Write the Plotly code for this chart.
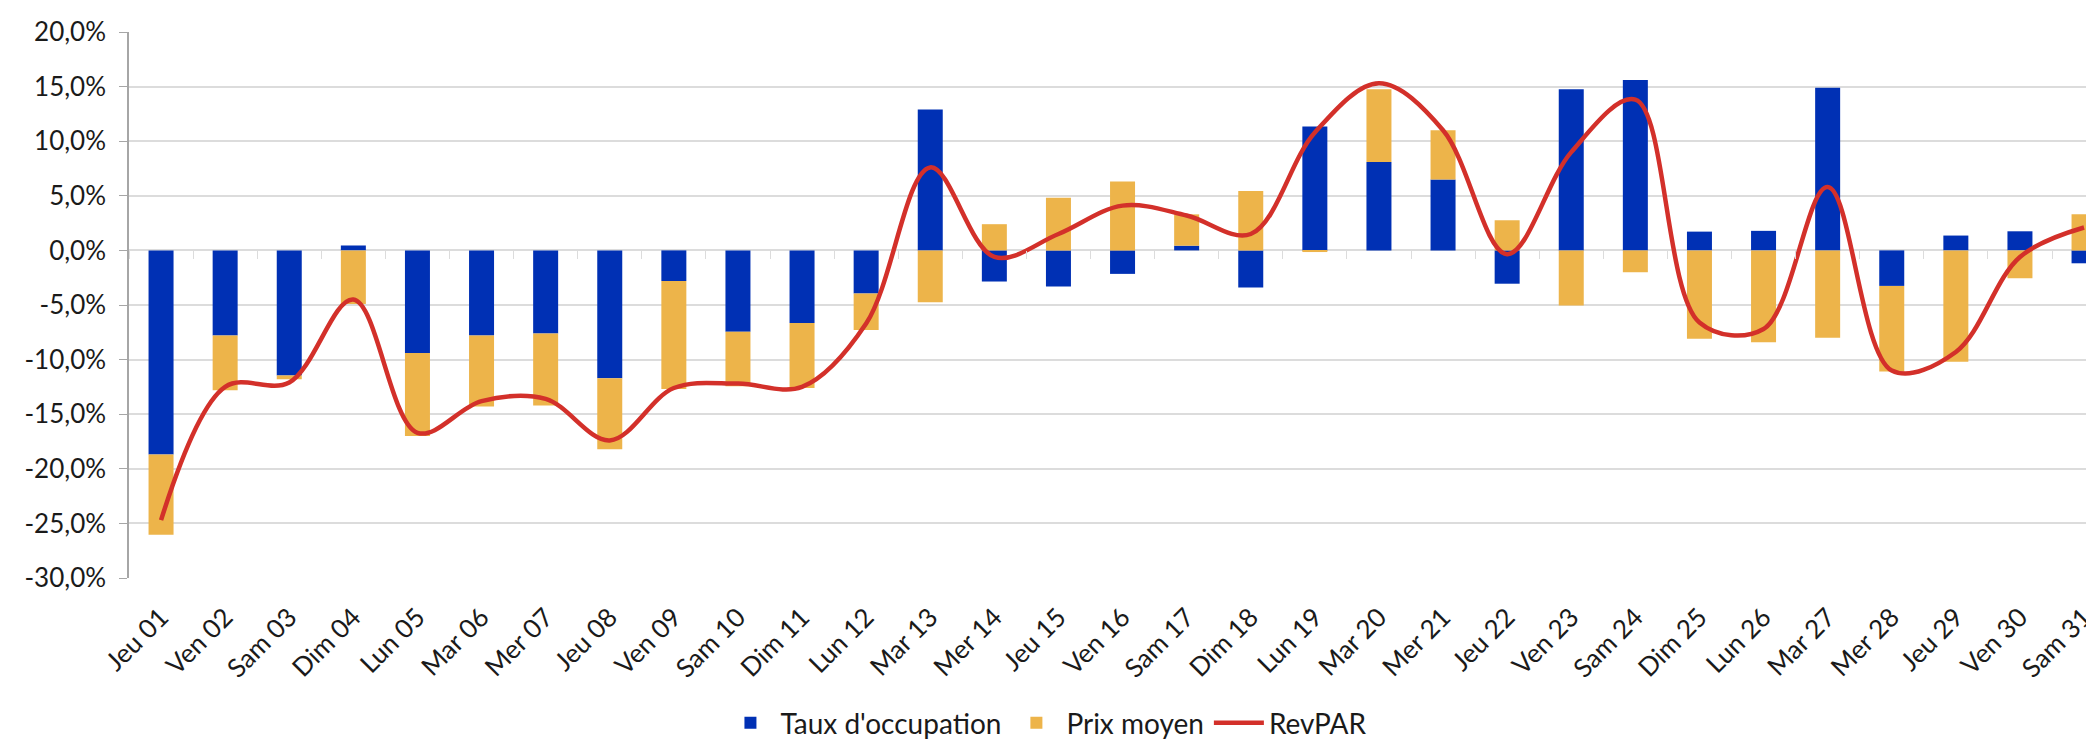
import plotly.graph_objects as go

categories = ["Jeu 01", "Ven 02", "Sam 03", "Dim 04", "Lun 05", "Mar 06", "Mer 07", "Jeu 08",
              "Ven 09", "Sam 10", "Dim 11", "Lun 12", "Mar 13", "Mer 14", "Jeu 15", "Ven 16",
              "Sam 17", "Dim 18", "Lun 19", "Mar 20", "Mer 21", "Jeu 22", "Ven 23", "Sam 24",
              "Dim 25", "Lun 26", "Mar 27", "Mer 28", "Jeu 29", "Ven 30", "Sam 31"]

taux_occupation = [-18.7, -7.8, -11.45, 0.45, -9.4, -7.8, -7.6, -11.7,
                   -2.8, -7.45, -6.65, -3.95, 12.9, -2.85, -3.3, -2.15,
                   0.43, -3.4, 11.35, 8.1, 6.5, -3.05, 14.75, 15.6,
                   1.72, 1.79, 14.9, -3.25, 1.36, 1.75, -1.18]

prix_moyen = [-7.35, -5.0, -0.35, -4.9, -7.6, -6.5, -6.6, -6.5,
              -9.9, -5.0, -5.95, -3.35, -4.75, 2.4, 4.83, 6.3,
              2.87, 5.44, -0.15, 6.65, 4.5, 2.76, -5.05, -2.0,
              -8.1, -8.4, -8.0, -7.85, -10.2, -2.55, 3.3]

revpar = [-24.7, -12.5, -12.1, -4.5, -16.7, -13.8, -13.6, -17.4,
          -12.6, -12.2, -12.5, -6.7, 7.6, -0.6, 1.5, 4.1,
          3.2, 1.5, 10.8, 15.3, 11.0, -0.35, 9.0, 13.8,
          -6.6, -7.2, 5.8, -11.0, -9.3, -0.6, 2.1]

y_ticks = [20, 15, 10, 5, 0, -5, -10, -15, -20, -25, -30]
y_ticktext = [f"{v},0%" for v in y_ticks]

BLUE = "#0030B4"
YELLOW = "#EDB44A"
RED = "#D3302A"
GRID = "#DCDCDC"
FONT = "Lato"
TXT = "#1a1a1a"

fig = go.Figure()
fig.add_trace(go.Bar(x=categories, y=taux_occupation, name="Taux d'occupation",
                     marker=dict(color=BLUE, line=dict(width=0))))
fig.add_trace(go.Bar(x=categories, y=prix_moyen, name="Prix moyen",
                     marker=dict(color=YELLOW, line=dict(width=0))))
fig.add_trace(go.Scatter(x=categories, y=revpar, name="RevPAR", mode="lines",
                         line=dict(color=RED, width=4.5, shape="spline", smoothing=1.0)))
# helper trace so the zero-line tick axis has categories
fig.add_trace(go.Scatter(x=categories, y=revpar, xaxis="x2", mode="lines",
                         line=dict(width=0), opacity=0, showlegend=False, hoverinfo="skip"))

fig.update_layout(
    width=2094, height=740,
    margin=dict(l=121, r=0, t=24, b=163),
    paper_bgcolor="white", plot_bgcolor="white",
    barmode="relative", bargap=0.61,
    font=dict(family=FONT, size=26, color=TXT),
    showlegend=True,
    legend=dict(orientation="h", x=0.465, xanchor="center", y=-0.266, yanchor="middle",
                font=dict(family=FONT, size=28, color=TXT), traceorder="normal",
                itemwidth=50),
    xaxis=dict(type="category", range=[-0.5, 30.28], tickangle=-45, automargin=False,
               ticklabelstandoff=18,
               showgrid=False, showline=False, ticks="", zeroline=False,
               tickfont=dict(family=FONT, size=26, color=TXT)),
    xaxis2=dict(type="category", overlaying="x", anchor="free", position=0.6,
                range=[-0.5, 30.28], showticklabels=False, ticks="outside",
                tickson="boundaries", ticklen=8, tickcolor=GRID, showgrid=False,
                showline=False, zeroline=False),
    yaxis=dict(range=[-30, 20], tickmode="array", tickvals=y_ticks, ticktext=y_ticktext,
               automargin=False, ticklabelstandoff=8,
               showgrid=True, gridcolor=GRID, gridwidth=1.5,
               zeroline=True, zerolinecolor=GRID, zerolinewidth=2,
               showline=True, linecolor="#A6A6A6", linewidth=1.5,
               ticks="outside", ticklen=8, tickcolor="#A6A6A6",
               tickfont=dict(family=FONT, size=26, color=TXT)),
)

fig.write_html("out.html")
